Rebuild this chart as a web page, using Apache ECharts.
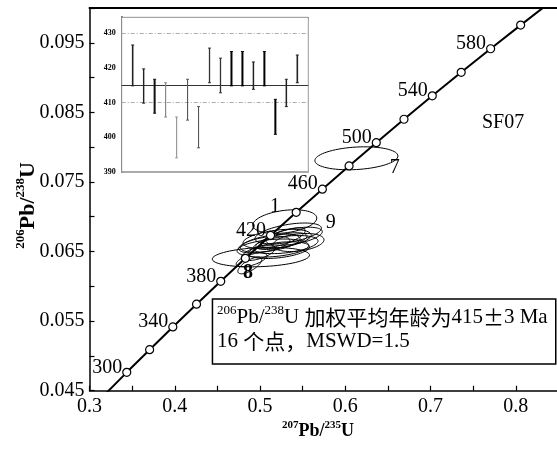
<!DOCTYPE html>
<html><head><meta charset="utf-8">
<script src="https://cdn.jsdelivr.net/npm/echarts@6/dist/echarts.min.js"></script>
<style>html,body{margin:0;padding:0;background:#fff}#c{width:557px;height:449px}</style>
</head><body><div id="c"></div>
<script>
// Concordia curve points (age in Ma, 207Pb/235U, 206Pb/238U)
const concordiaAges = [280,300,320,340,360,380,400,420,440,460,480,500,520,540,560,580,600,620];
const concordiaX = [0.3175,0.3437,0.3705,0.3977,0.4255,0.4539,0.4828,0.5123,0.5424,0.5731,0.6044,0.6363,0.6688,0.7020,0.7359,0.7704,0.8056,0.8415];
const concordiaY = [0.04439,0.04764,0.05089,0.05416,0.05743,0.06072,0.06402,0.06732,0.07064,0.07396,0.07730,0.08065,0.08401,0.08738,0.09076,0.09414,0.09754,0.10095];
const markedAges = [300,320,340,360,380,400,420,440,460,480,500,520,540,560,580,600];
const labelledAges = [300,340,380,420,460,500,540,580];

// Error ellipses: centre, errors, correlation
const ellX   = [0.529,0.520,0.512,0.525,0.540,0.515,0.613,0.488,0.533,0.501,0.530,0.505,0.522,0.498,0.545,0.490,0.527];
const ellY   = [0.0693,0.0668,0.0662,0.0665,0.0672,0.0655,0.0784,0.0630,0.0676,0.0642,0.0660,0.0660,0.0652,0.0648,0.0663,0.0638,0.0670];
const ellSX  = [0.0375,0.040,0.035,0.030,0.033,0.042,0.0487,0.014,0.039,0.057,0.038,0.030,0.036,0.020,0.030,0.018,0.026];
const ellSY  = [0.0017,0.0014,0.0013,0.0012,0.0013,0.0013,0.00165,0.0012,0.0015,0.0014,0.0013,0.0012,0.0012,0.0011,0.0013,0.0010,0.0014];
const ellRho = [0.3,0.4,0.5,0.6,0.5,0.3,0.2,0.7,0.5,0.2,0.4,0.5,0.4,0.6,0.3,0.6,0.7];

// Spot-number labels on ellipses
const spotLabels = ['1','7','8','9'];
const spotLabelX = [0.5175,0.6581,0.4858,0.5830];
const spotLabelY = [0.0714,0.0771,0.0619,0.0691];

// Inset: weighted mean age bars (Ma)
const insetIndex = [1,2,3,4,5,6,7,8,9,10,11,12,13,14,15,16];
const insetLow  = [414.8,409.8,406.9,405.8,394.0,404.9,396.9,415.7,412.8,414.8,414.8,413.8,414.8,400.8,408.8,415.7];
const insetHigh = [426.6,419.7,416.7,415.7,405.8,416.7,408.8,425.7,422.8,424.7,424.7,421.7,424.7,410.9,416.7,423.7];
const insetMean = 415;
const insetBand = [430,410];

// styles (kept separate from values)
const barColors = ['#222','#222','#111','#888','#999','#555','#555','#333','#333','#000','#000','#222','#000','#000','#222','#222'];
const barWidths = [1.6,1.4,2,1.2,1.2,1.1,1.1,1.3,1.3,2,2,1.5,2,2,1.5,1.6];

const SERIF = "'Liberation Serif', 'Times New Roman', serif";

const concData = concordiaAges.map((a,i)=>({
  value:[concordiaX[i], concordiaY[i]],
  symbol: markedAges.includes(a) ? 'circle' : 'none',
  label: {show: labelledAges.includes(a), formatter: String(a)}
}));

const ellData = ellX.map((x,i)=>[x, ellY[i], ellSX[i], ellSY[i], ellRho[i]]);
const barData = insetIndex.map((k,i)=>[k, insetLow[i], insetHigh[i]]);
const spotData = spotLabels.map((s,i)=>[spotLabelX[i], spotLabelY[i], i]);

const chart = echarts.init(document.getElementById('c'), null, {renderer:'canvas'});
const xRich = {
  s:{fontSize:11, fontWeight:'bold', fontFamily:SERIF, verticalAlign:'top', lineHeight:12, color:'#000'},
  b:{fontSize:18, fontWeight:'bold', fontFamily:SERIF, verticalAlign:'bottom', lineHeight:21, color:'#000'}
};
const yRich = {
  s:{fontSize:13, fontWeight:'bold', fontFamily:SERIF, verticalAlign:'top', lineHeight:14, color:'#000'},
  b:{fontSize:22, fontWeight:'bold', fontFamily:SERIF, verticalAlign:'bottom', lineHeight:25, color:'#000'}
};

chart.setOption({
  animation:false,
  textStyle:{fontFamily:SERIF, color:'#000'},
  grid:[
    {left:89.5, top:8, width:469, height:382.7, outerBoundsMode:'none', containLabel:false},
    {left:121.7, top:17.3, width:186.6, height:154.4, outerBoundsMode:'none', containLabel:false,
     show:true, borderColor:'#999', borderWidth:1, backgroundColor:'#fff', z:5}
  ],
  xAxis:[
    {gridIndex:0, type:'value', min:0.3, max:0.85, interval:0.05, position:'bottom',
     axisLine:{show:true, onZero:false, lineStyle:{color:'#000', width:1.5}},
     axisTick:{show:true, inside:true, length:5, lineStyle:{color:'#000', width:1.2}},
     splitLine:{show:false},
     axisLabel:{fontSize:20, fontFamily:SERIF, color:'#000', margin:6,
       formatter:v=>{const k=Math.round((v-0.3)/0.05); return k%2===0 ? v.toFixed(1) : '';}},
     name:'{s|207}{b|Pb/}{s|235}{b|U}', nameLocation:'middle', nameGap:29, nameMoveOverlap:false,
     nameTextStyle:{rich:xRich, padding:[0,12,0,0]}},
    {gridIndex:0, type:'value', min:0.3, max:0.85, position:'top',
     axisLine:{show:true, onZero:false, lineStyle:{color:'#000', width:2}},
     axisTick:{show:false}, axisLabel:{show:false}, splitLine:{show:false}},
    {gridIndex:1, type:'value', min:0, max:17, position:'bottom',
     axisLine:{show:true, onZero:false, lineStyle:{color:'#999', width:1.5}},
     axisTick:{show:false}, axisLabel:{show:false}, splitLine:{show:false}},
    {gridIndex:1, type:'value', min:0, max:17, position:'top',
     axisLine:{show:true, onZero:false, lineStyle:{color:'#222', width:1.5}},
     axisTick:{show:false}, axisLabel:{show:false}, splitLine:{show:false}}
  ],
  yAxis:[
    {gridIndex:0, type:'value', min:0.045, max:0.1, interval:0.005,
     axisLine:{show:true, onZero:false, lineStyle:{color:'#000', width:1.5}},
     axisTick:{show:true, inside:true, length:5, lineStyle:{color:'#000', width:1.2}},
     splitLine:{show:false},
     axisLabel:{fontSize:20, fontFamily:SERIF, color:'#000', margin:5,
       formatter:v=>{const k=Math.round((v-0.045)/0.005); return k%2===0 ? v.toFixed(3) : '';}},
     name:'{s|206}{b|Pb/}{s|238}{b|U}', nameLocation:'middle', nameGap:50, nameRotate:90, nameMoveOverlap:false,
     nameTextStyle:{rich:yRich, padding:[0,12,0,0]}},
    {gridIndex:1, type:'value', min:390, max:434.6, interval:10,
     axisLine:{show:true, onZero:false, lineStyle:{color:'#111', width:2}},
     axisTick:{show:false}, splitLine:{show:false},
     axisLabel:{fontSize:8, fontWeight:'bold', fontFamily:SERIF, color:'#000', margin:6,
       formatter:v=>(Math.abs(v%10)<1e-6 ? String(v) : '')}}
  ],
  series:[
    {type:'custom', name:'ellipses', xAxisIndex:0, yAxisIndex:0, clip:true, z:3,
     data: ellData, encode:{x:0, y:1},
     renderItem:(params, api)=>{
       const cx=api.value(0), cy=api.value(1), sx=api.value(2), sy=api.value(3), r=api.value(4);
       const q=Math.sqrt(1-r*r), pts=[];
       for(let t=0;t<72;t++){
         const th=2*Math.PI*t/72;
         pts.push(api.coord([cx+sx*Math.cos(th), cy+sy*(r*Math.cos(th)+q*Math.sin(th))]));
       }
       return {type:'polygon', shape:{points:pts}, style:{fill:'none', stroke:'#000', lineWidth:1}};
     }},
    {type:'line', name:'concordia', xAxisIndex:0, yAxisIndex:0, data:concData, z:4,
     symbolSize:8, showAllSymbol:true, clip:true,
     lineStyle:{color:'#000', width:2},
     itemStyle:{color:'#fff', borderColor:'#000', borderWidth:1.2},
     label:{position:'left', distance:0, offset:[0,-5], fontSize:20, fontFamily:SERIF, color:'#000'}},
    {type:'custom', name:'spots', xAxisIndex:0, yAxisIndex:0, data:spotData, encode:{x:0, y:1}, z:6,
     renderItem:(params, api)=>{
       const p=api.coord([api.value(0), api.value(1)]);
       const s=spotLabels[api.value(2)];
       return {type:'text', x:p[0], y:p[1], style:{text:s, fill:'#000', align:'center', verticalAlign:'middle',
         font:(s==='8'?'bold ':'')+"20px 'Liberation Serif'"}};
     }},
    {type:'custom', name:'inset', xAxisIndex:2, yAxisIndex:1, data:barData, encode:{x:0, y:[1,2]}, z:10,
     renderItem:(params, api)=>{
       const i=params.dataIndex;
       const p1=api.coord([api.value(0), api.value(1)]), p2=api.coord([api.value(0), api.value(2)]);
       const st={stroke:barColors[i], lineWidth:barWidths[i]};
       return {type:'group', children:[
         {type:'line', shape:{x1:p1[0], y1:p1[1], x2:p2[0], y2:p2[1]}, style:st},
         {type:'line', shape:{x1:p1[0]-1.5, y1:p1[1], x2:p1[0]+1.5, y2:p1[1]}, style:{stroke:barColors[i], lineWidth:1}},
         {type:'line', shape:{x1:p2[0]-1.5, y1:p2[1], x2:p2[0]+1.5, y2:p2[1]}, style:{stroke:barColors[i], lineWidth:1}}
       ]};
     },
     markLine:{silent:true, symbol:'none', label:{show:false}, z:9,
       data:[
         {yAxis:insetBand[0], lineStyle:{color:'#aaa', width:1, type:[4,2,1,2]}},
         {yAxis:insetBand[1], lineStyle:{color:'#aaa', width:1, type:[4,2,1,2]}},
         {yAxis:insetMean, lineStyle:{color:'#333', width:1.2, type:'solid'}}
       ]}}
  ],
  graphic:[
    {type:'text', left:482, top:113, z:20, style:{text:'SF07', font:"20px 'Liberation Serif'", fill:'#000'}},
    {type:'rect', left:211.7, top:298.3, z:20, shape:{width:343.3, height:65},
     style:{fill:'#fff', stroke:'#000', lineWidth:1.5}},
    {type:'text', left:217, top:304, z:21, style:{
      text:'{s|206}{n|Pb/}{s|238}{n|U }{c|加权平均年龄为}{n|415}{c|±}{n|3 Ma}',
      rich:{
        s:{fontSize:13, fontFamily:SERIF, verticalAlign:'top', lineHeight:14, fill:'#000'},
        n:{fontSize:21, fontFamily:SERIF, verticalAlign:'bottom', lineHeight:24, fill:'#000'},
        c:{fontSize:21, fontFamily:"'Noto Sans CJK SC'", verticalAlign:'bottom', lineHeight:24, fill:'#000'}
      }}},
    {type:'text', left:217, top:331, z:21, style:{
      text:'{n|16 }{c|个点，}{n|MSWD=1.5}',
      rich:{
        n:{fontSize:21, fontFamily:SERIF, verticalAlign:'bottom', lineHeight:24, fill:'#000'},
        c:{fontSize:21, fontFamily:"'Noto Sans CJK SC'", verticalAlign:'bottom', lineHeight:24, fill:'#000'}
      }}}
  ]
});
</script></body></html>
